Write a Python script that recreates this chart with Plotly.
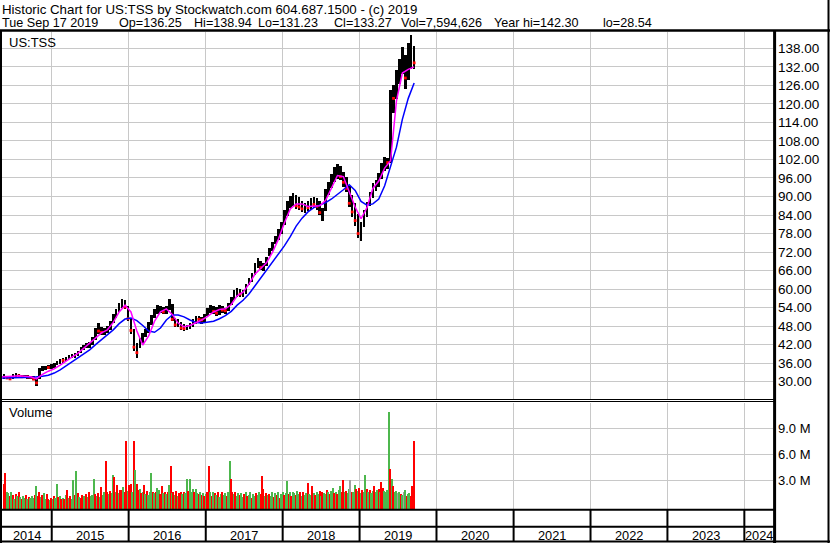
import plotly.graph_objects as go
import pandas as pd
import numpy as np

W, H = 830, 543
FONT = "Liberation Sans, Arial, sans-serif"

# ---------------- data ----------------
price_dates = pd.date_range(end="2019-09-17", periods=140, freq="14D")
high = [32.5,32.0,31.6,32.4,32.8,32.6,32.3,32.2,32.1,32.0,
        31.9,31.2,34.6,35.0,35.2,35.4,35.6,36.2,36.8,37.4,
        37.6,38.0,38.6,39.0,39.2,39.8,41.2,41.8,42.4,42.8,
        44.5,47.5,49.0,47.8,47.4,48.0,49.6,52.0,53.6,55.4,
        56.8,56.6,54.6,50.8,47.0,42.6,44.0,45.7,47.2,49.2,
        51.6,53.6,54.8,54.4,54.2,54.6,56.8,55.2,50.8,50.4,
        49.4,48.6,48.4,49.0,50.2,51.4,51.2,51.0,51.8,53.8,
        54.8,54.6,54.2,54.8,54.4,54.0,55.4,57.6,59.6,60.4,
        60.0,59.6,61.6,63.6,65.2,68.4,70.2,69.0,68.6,70.4,
        73.2,75.4,77.2,79.4,81.6,85.6,88.4,90.2,91.0,90.6,
        89.8,88.4,88.0,88.6,89.6,89.8,89.4,88.6,86.4,92.4,
        94.6,97.4,99.6,100.6,99.8,98.0,96.4,93.4,90.6,87.8,
        84.2,81.6,85.6,88.2,91.6,94.4,95.4,97.6,101.0,102.8,
        102.6,124.6,126.0,131.0,134.4,138.6,136.0,139.8,142.3,138.9]
low = [31.0,30.8,30.4,30.9,31.6,31.4,31.2,31.1,31.0,30.9,
       30.4,28.6,31.0,33.6,33.9,34.0,34.2,34.6,35.3,35.6,
       36.2,36.6,37.2,37.8,37.6,38.2,39.4,40.2,40.8,41.0,
       41.8,43.6,45.6,45.2,45.0,45.8,46.8,49.0,50.6,52.6,
       54.0,53.4,49.6,45.6,40.0,37.7,40.8,42.6,44.4,45.8,
       48.4,50.8,52.0,52.2,52.0,51.8,53.2,49.6,47.6,47.8,
       46.6,46.4,46.8,47.0,47.6,48.6,49.0,48.8,49.4,51.4,
       52.4,52.0,51.2,51.6,52.4,52.0,52.8,54.8,56.6,57.6,
       57.4,57.4,58.4,61.2,62.4,64.6,66.8,66.2,66.0,67.6,
       70.6,72.4,74.6,76.0,78.0,80.8,83.6,86.2,86.8,86.0,
       85.6,85.0,84.6,85.4,85.6,86.4,85.6,84.0,82.0,85.4,
       90.6,92.8,94.8,95.8,95.4,93.0,91.4,86.6,83.4,80.4,
       76.4,75.6,80.0,83.4,86.8,89.6,91.8,93.2,95.6,98.4,
       99.0,100.8,117.0,121.6,126.4,129.8,124.8,127.6,131.2,131.2]
close = [31.8,31.2,30.9,32.0,32.3,31.9,31.6,31.8,31.5,31.4,
         30.8,29.6,34.0,34.4,34.8,34.6,35.2,35.8,36.4,37.0,
         36.9,37.6,38.2,38.4,38.9,39.4,40.8,41.2,42.0,42.2,
         44.0,46.6,46.4,46.0,46.6,47.4,49.2,51.4,53.0,54.6,
         55.6,54.2,50.4,46.6,41.2,39.4,43.4,44.6,46.6,48.6,
         51.0,53.0,53.4,53.6,52.6,53.8,54.4,50.2,48.4,49.4,
         47.4,47.2,47.8,48.2,49.6,50.8,50.2,50.0,51.2,53.2,
         53.8,52.8,52.2,53.6,53.2,53.0,54.8,57.0,58.8,59.6,
         58.4,58.8,61.0,63.0,64.6,67.8,68.4,67.0,67.8,70.0,
         72.6,74.6,76.6,78.6,80.8,84.8,87.6,88.4,89.6,87.0,
         86.6,86.0,87.2,86.4,88.6,87.4,86.8,84.8,85.8,91.6,
         93.8,96.4,97.8,99.2,96.4,94.6,92.6,87.8,85.0,82.2,
         78.0,80.6,84.6,87.2,90.8,93.6,94.2,96.8,99.6,101.4,
         101.0,122.4,121.8,128.8,131.6,135.6,128.4,134.8,136.6,133.3]

ma_dates = pd.date_range(end="2019-09-17", periods=71, freq="28D")
ma_short = [31.6,31.6,31.8,31.9,31.8,31.6,30.9,32.4,33.4,34.2,
            35.4,36.8,38.0,39.2,40.8,42.4,44.0,45.8,46.8,49.2,
            52.6,54.8,52.6,46.4,41.9,44.8,49.6,52.6,53.6,51.8,
            49.0,47.8,48.2,49.0,50.0,51.2,52.6,53.4,53.6,55.0,
            57.8,59.0,61.6,64.8,66.8,68.6,72.0,76.2,81.4,86.0,
            87.6,87.6,86.8,87.0,87.0,88.8,92.6,96.8,96.4,91.6,
            86.6,82.8,86.4,92.6,95.0,99.2,101.6,121.0,130.0,131.2,
            132.0]
ma_long = [31.2,31.3,31.4,31.4,31.4,31.4,31.5,31.8,32.1,32.8,
           33.8,35.1,36.5,37.7,39.0,40.3,42.0,43.5,45.0,46.8,
           48.8,50.3,50.6,49.8,48.2,46.4,46.0,47.4,50.0,51.6,
           51.6,51.0,50.0,49.2,49.0,49.2,49.6,50.4,51.4,52.8,
           54.8,56.4,58.4,61.0,63.6,66.4,68.8,71.2,74.0,77.0,
           80.4,83.0,85.0,86.4,87.2,88.0,89.2,90.6,92.2,93.8,
           92.0,88.4,87.2,87.6,89.2,93.5,99.5,106.0,115.0,121.8,
           126.8]

vol_dates = pd.date_range(end="2019-09-17", periods=279, freq="7D")
volume = [2.6,3.9,1.6,1.5,1.2,1.6,1.3,0.9,1.4,1.2,
          1.7,1.1,0.9,1.2,1.0,1.3,0.8,1.1,1.0,1.2,
          1.0,1.3,2.3,1.2,1.6,1.1,1.3,1.5,0.9,1.4,
          0.9,0.7,1.0,0.8,1.2,1.0,2.6,1.1,1.2,0.9,
          1.0,0.9,1.3,1.9,1.0,1.2,0.9,3.0,1.3,4.1,
          1.5,1.1,1.0,1.3,1.2,0.9,1.4,1.1,1.6,1.2,
          1.3,3.1,1.4,1.2,1.5,1.1,2.2,1.3,1.6,5.2,
          1.7,1.4,1.8,1.5,3.6,3.4,1.6,2.5,1.5,1.9,
          1.9,2.2,1.7,7.5,1.8,2.5,2.6,1.6,7.5,4.2,
          2.6,1.9,2.0,1.5,1.7,2.5,1.4,1.8,1.3,1.6,
          3.8,1.6,1.5,1.7,2.1,1.9,1.4,2.3,1.5,1.6,
          1.4,1.7,2.5,4.6,1.5,1.7,1.3,1.8,1.2,1.5,
          1.7,1.4,1.6,1.5,3.2,1.8,3.1,1.6,2.0,1.7,
          2.0,1.5,1.4,1.6,1.3,1.5,1.2,1.4,1.7,4.6,
          1.6,1.2,1.7,1.5,1.3,1.7,1.1,1.4,1.6,1.3,
          1.5,1.2,1.6,5.2,3.2,1.7,1.4,1.7,1.2,1.5,
          1.3,1.5,1.1,1.4,1.7,1.2,1.3,1.6,1.0,1.4,
          1.2,1.5,1.3,1.6,1.4,3.5,2.0,1.2,1.5,1.3,
          1.4,1.2,1.6,1.1,1.5,1.3,1.7,1.0,1.4,1.6,
          1.3,1.5,2.9,1.4,1.7,1.2,1.6,1.5,1.3,1.8,
          1.4,1.6,1.2,1.7,1.3,1.5,2.7,1.4,1.3,2.4,
          1.5,1.3,1.6,1.4,1.8,1.2,1.6,1.5,1.4,1.9,
          1.6,1.4,1.8,2.1,1.5,1.7,1.4,1.9,2.4,1.6,
          3.0,1.6,1.8,1.5,2.0,3.0,1.7,1.6,2.5,2.0,
          1.8,2.1,1.5,1.9,1.6,3.6,2.0,1.7,1.9,1.5,
          1.8,2.4,1.6,1.9,2.0,1.7,2.8,2.1,1.8,1.6,
          1.9,10.9,4.3,3.1,2.4,1.6,1.8,1.5,1.7,1.4,
          1.3,1.6,1.9,1.2,1.4,1.5,1.2,2.4,7.59]
# g = up, r = down, k = unchanged
vol_dir = ("rrggrgrgrg" "rgrggrgrgg" "grgrrgrggr" "rgrgrggrgr" "grgrgrggrg"
           "rgrrggrgrg" "ggrgrgrggr" "rgrggrgrgr" "rgrrgrrgrg" "rrgrgrgrgg"
           "grgrggrrgr" "grgrgrgrgr" "rgrggrgggr" "ggrgrgrgrr" "grgrgrggrg"
           "grggrrgrgg" "rggrgrggrg" "grggrrrgrg" "rggrgrgrgg" "rggrgrggrg"
           "grgrggrggr" "grggrgrggr" "grggrgrggr" "rgrggkrggr" "grgrggrgrg"
           "grggrgrrgg" "ggrgrggkgr" "gkgrggrrr")

price_ticks = [30, 36, 42, 48, 54, 60, 66, 72, 78, 84, 90, 96, 102, 108, 114, 120, 126, 132, 138]
vol_ticks = [3, 6, 9]
vol_tick_text = ["3.0 M", "6.0 M", "9.0 M"]
years = list(range(2014, 2025))
header_line1 = "Historic Chart for US:TSS by Stockwatch.com 604.687.1500 - (c) 2019"
header_fields = ["Tue Sep 17 2019", "Op=136.25", "Hi=138.94", "Lo=131.23", "Cl=133.27",
                 "Vol=7,594,626", "Year hi=142.30", "lo=28.54"]

# ---------------- layout helpers ----------------
def py(p):
    return 1 - p / H

def px(p):
    return p / W

X_LEFT, X_RIGHT = 2, 773
x_range = [pd.Timestamp("2014-05-10"), pd.Timestamp("2024-05-16")]
year_starts = [pd.Timestamp(f"{y}-01-01") for y in years[1:]]

DAY = 86400000
GREEN, RED, GRAY = "#4db74d", "#ff0000", "#a0a0a0"
GRID = "#c8c8c8"

fig = go.Figure()

# price high-low bars
hi = np.array(high); lo = np.array(low); cl = np.array(close)
fig.add_trace(go.Bar(x=price_dates, y=hi - lo, base=lo, width=12 * DAY,
                     marker=dict(color="black", line_width=0),
                     xaxis="x", yaxis="y", hoverinfo="skip", showlegend=False))
down = np.r_[False, cl[1:] < cl[:-1]]
fig.add_trace(go.Scatter(x=price_dates[down], y=cl[down], mode="markers",
                         marker=dict(symbol="square", size=2.8, color=RED, line_width=0),
                         xaxis="x", yaxis="y", hoverinfo="skip", showlegend=False))
fig.add_trace(go.Scatter(x=ma_dates, y=ma_long, mode="lines",
                         line=dict(color="#0000ff", width=1.5),
                         xaxis="x", yaxis="y", showlegend=False))
fig.add_trace(go.Scatter(x=ma_dates, y=ma_short, mode="lines",
                         line=dict(color="#ff00ff", width=1.5),
                         xaxis="x", yaxis="y", showlegend=False))

# volume bars
cmap = {"g": GREEN, "r": RED, "k": GRAY}
VOFF = 0.31
fig.add_trace(go.Bar(x=vol_dates, y=np.array(volume) + VOFF, base=-VOFF, width=7 * DAY,
                     marker=dict(color=[cmap[c] for c in vol_dir], line_width=0),
                     xaxis="x2", yaxis="y2", hoverinfo="skip", showlegend=False))

axis_common = dict(type="date", range=x_range, domain=[px(X_LEFT), px(X_RIGHT)],
                   tickvals=year_starts, showticklabels=False, ticks="",
                   showgrid=True, gridcolor=GRID, gridwidth=1, zeroline=False, showline=False)

fig.update_layout(
    width=W, height=H, margin=dict(l=0, r=0, t=0, b=0),
    paper_bgcolor="white", plot_bgcolor="white", barmode="overlay", bargap=0,
    showlegend=False,
    xaxis=dict(axis_common, anchor="y"),
    xaxis2=dict(axis_common, anchor="y2", matches="x"),
    yaxis=dict(domain=[py(400), py(32)], range=[24.07, 143.3], side="right", anchor="x",
               tickvals=price_ticks, ticktext=[f"{v:.2f}" for v in price_ticks],
               ticks="", ticklabelstandoff=4, showgrid=True, gridcolor=GRID, gridwidth=1,
               zeroline=False, showline=False,
               tickfont=dict(family=FONT, size=13.5, color="black")),
    yaxis2=dict(domain=[py(509), py(403)], range=[-VOFF, 11.92], side="right", anchor="x2",
                tickvals=vol_ticks, ticktext=vol_tick_text,
                ticks="", ticklabelstandoff=4, showgrid=True, gridcolor=GRID, gridwidth=1,
                zeroline=False, showline=False,
                tickfont=dict(family=FONT, size=13, color="black")),
)

shapes = []
def hline(y, x0, x1, w):
    shapes.append(dict(type="line", xref="paper", yref="paper", x0=px(x0), x1=px(x1),
                       y0=py(y), y1=py(y), line=dict(color="black", width=w)))
def vline(x, y0, y1, w):
    shapes.append(dict(type="line", xref="paper", yref="paper", x0=px(x), x1=px(x),
                       y0=py(y0), y1=py(y1), line=dict(color="black", width=w)))

hline(30.5, 0, W, 2.5)          # header separator
hline(399.5, 0, 775, 1)         # double line between panels
hline(401.5, 0, 775, 1)
hline(509.8, 0, 775, 2)
hline(526.8, 0, 775, 2)
hline(541.6, 0, W, 2)
vline(1, 30, H, 2)              # left border
vline(774.6, 30, H, 3)          # axis separator
vline(828.5, 0, H, 2)           # right border
for ys in year_starts:
    shapes.append(dict(type="line", xref="x", yref="paper", x0=ys, x1=ys,
                       y0=py(509), y1=py(542), line=dict(color="black", width=2)))

annotations = []
annotations.append(dict(text=header_line1, x=px(0), y=py(10), xref="paper", yref="paper",
                        xanchor="left", yanchor="middle", showarrow=False,
                        font=dict(family=FONT, size=13.3, color="black")))
field_x = [0, 117, 192, 256, 332, 399, 492, 601]
for t, fx in zip(header_fields, field_x):
    annotations.append(dict(text=t, x=px(fx), y=py(23), xref="paper", yref="paper",
                            xanchor="left", yanchor="middle", showarrow=False,
                            font=dict(family=FONT, size=12.6, color="black")))
annotations.append(dict(text="US:TSS", x=px(7), y=py(42), xref="paper", yref="paper",
                        xanchor="left", yanchor="middle", showarrow=False,
                        font=dict(family=FONT, size=13, color="black")))
annotations.append(dict(text="Volume", x=px(7), y=py(413), xref="paper", yref="paper",
                        xanchor="left", yanchor="middle", showarrow=False,
                        font=dict(family=FONT, size=13, color="black")))
bounds = [x_range[0]] + year_starts + [x_range[1]]
for yr, a, b in zip(years, bounds[:-1], bounds[1:]):
    mid = a + (b - a) / 2
    annotations.append(dict(text=str(yr), x=mid, y=py(535), xref="x", yref="paper",
                            xanchor="center", yanchor="middle", showarrow=False,
                            font=dict(family=FONT, size=12.8, color="black")))

fig.update_layout(shapes=shapes, annotations=annotations)
fig.write_html("out.html", config={"displayModeBar": False},
               post_script="document.body.style.margin='0px';document.body.style.padding='0px';")
